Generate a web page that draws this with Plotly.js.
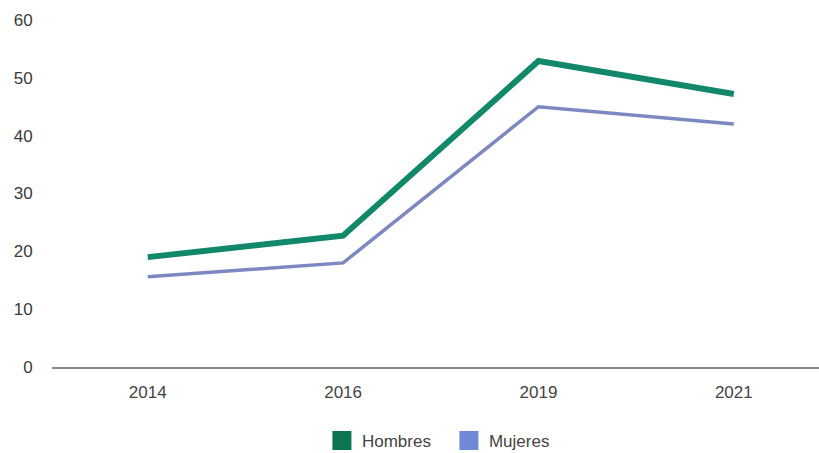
<!DOCTYPE html>
<html>
<head>
<meta charset="utf-8">
<script src="https://cdn.plot.ly/plotly-3.0.1.min.js"></script>
<style>html,body{margin:0;padding:0;background:#fff;}#chart{width:819px;height:453px;}</style>
</head>
<body>
<div id="chart"></div>
<script>
const years = ['2014', '2016', '2019', '2021'];
const hombres = [19.0, 22.7, 52.9, 47.2];
const mujeres = [15.6, 18.0, 45.0, 42.0];
const seriesNames = ['Hombres', 'Mujeres'];

const lineColors = ['#12886a', '#7d87c2'];
const legendColors = ['#0e7552', '#6f89d6'];

const traces = [
  {x: years, y: hombres, type: 'scatter', mode: 'lines', name: seriesNames[0],
   line: {color: lineColors[0], width: 6}, showlegend: false, hoverinfo: 'x+y'},
  {x: years, y: mujeres, type: 'scatter', mode: 'lines', name: seriesNames[1],
   line: {color: lineColors[1], width: 3.5}, showlegend: false, hoverinfo: 'x+y'},
  {x: [null], y: [null], type: 'scatter', mode: 'markers', name: seriesNames[0],
   marker: {color: legendColors[0], symbol: 'square', size: 16, line: {color: legendColors[0], width: 3}}, showlegend: true},
  {x: [null], y: [null], type: 'scatter', mode: 'markers', name: seriesNames[1],
   marker: {color: legendColors[1], symbol: 'square', size: 16, line: {color: legendColors[1], width: 3}}, showlegend: true}
];

const layout = {
  width: 819, height: 453,
  margin: {l: 52, r: 0, t: 20, b: 86, autoexpand: false},
  paper_bgcolor: '#ffffff', plot_bgcolor: '#ffffff',
  font: {family: 'Liberation Sans, Arial, sans-serif', size: 17, color: '#444'},
  xaxis: {type: 'category', categoryorder: 'array', categoryarray: years,
          range: [-0.49, 3.436], showgrid: false, zeroline: false,
          showline: true, linecolor: '#8a8a8a', linewidth: 1.5,
          ticks: 'outside', ticklen: 9, tickcolor: 'rgba(0,0,0,0)',
          tickfont: {size: 17, color: '#444'}, automargin: false},
  yaxis: {range: [0, 60], dtick: 10, showgrid: false, zeroline: false, showline: false,
          ticks: 'outside', ticklen: 15, tickcolor: 'rgba(0,0,0,0)',
          tickfont: {size: 17, color: '#3a3a3a'}, automargin: false},
  showlegend: true,
  legend: {orientation: 'h', x: 0.5175, xanchor: 'center', y: -0.213, yanchor: 'middle',
           font: {size: 17, color: '#444'}, entrywidth: 82, entrywidthmode: 'pixels',
           itemsizing: 'trace'}
};

Plotly.newPlot('chart', traces, layout, {displayModeBar: false, staticPlot: true});
</script>
</body>
</html>
